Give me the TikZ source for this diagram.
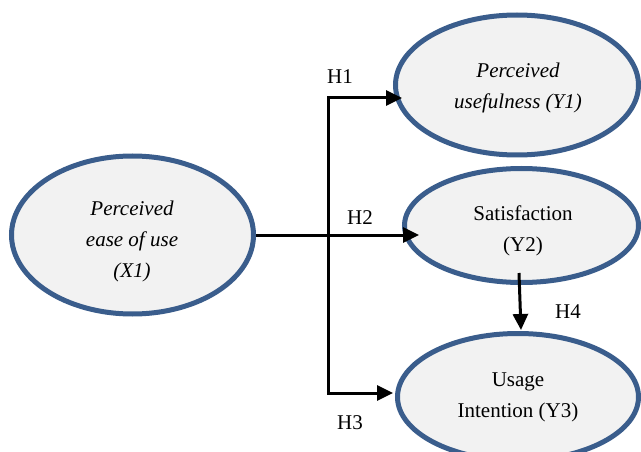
\documentclass[tikz,border=0pt]{standalone}
\usepackage{fontspec}
\setmainfont{Liberation Serif}
\usetikzlibrary{shapes.geometric,arrows.meta,calc}
\definecolor{edgeblue}{HTML}{3A5D8C}
\definecolor{fillgray}{HTML}{F2F2F2}
\begin{document}
\begin{tikzpicture}[x=1pt,y=-1pt,
  latent/.style={ellipse, draw=edgeblue, fill=fillgray, line width=5pt, inner sep=0pt},
  lbl/.style={font=\fontsize{21}{31}\selectfont, align=center, inner sep=0pt},
  hyp/.style={font=\fontsize{21}{24}\selectfont, inner sep=0pt},
  conn/.style={line width=3pt, line join=miter, -{Triangle[length=16pt,width=15pt]}},
  conn2/.style={line width=3pt, line join=miter, {Triangle[length=16pt,width=15pt]}-{Triangle[length=16pt,width=15pt]}},
]
\useasboundingbox (0,0) rectangle (641,452);
\begin{scope}
\clip (0,0) rectangle (641,452);
% latent variables
\node[latent, minimum width=242pt, minimum height=158pt] (x1) at (132.5,235) {};
\node[latent, minimum width=243pt, minimum height=140pt] (y1) at (517,85) {};
\node[latent, minimum width=234pt, minimum height=114pt] (y2) at (521.5,225.5) {};
\node[latent, minimum width=241pt, minimum height=127pt] (y3) at (518,397) {};
% texts
\node[lbl] (tx1) at (132,241) {\itshape Perceived\\\itshape ease of use\\\itshape (X1)};
\node[lbl] (ty1) at (518,88) {\itshape Perceived\\\itshape usefulness (Y1)};
\node[lbl] (ty2) at (523,231) {Satisfaction\\(Y2)};
\node[lbl] (ty3) at (518,397) {Usage\\Intention (Y3)};
% connector points
\coordinate (trunkTop) at (328,98);
\coordinate (trunkBot) at (328,393);
\coordinate (h1tip) at (402,98);
\coordinate (h2tip) at (419,235);
\coordinate (h3tip) at (393,393);
\coordinate (h4start) at (519,273);
\coordinate (h4tip) at (521,330);
% connectors
\draw[conn2] (h3tip) -- (trunkBot) -- (trunkTop) -- (h1tip);
\draw[conn] (x1.east) -- (h2tip);
\draw[conn] (h4start) -- (h4tip);
% hypothesis labels
\node[hyp] (H1) at (340,77) {H1};
\node[hyp] (H2) at (360,218) {H2};
\node[hyp] (H3) at (350,423) {H3};
\node[hyp] (H4) at (568,312) {H4};
\end{scope}
\end{tikzpicture}
\end{document}
